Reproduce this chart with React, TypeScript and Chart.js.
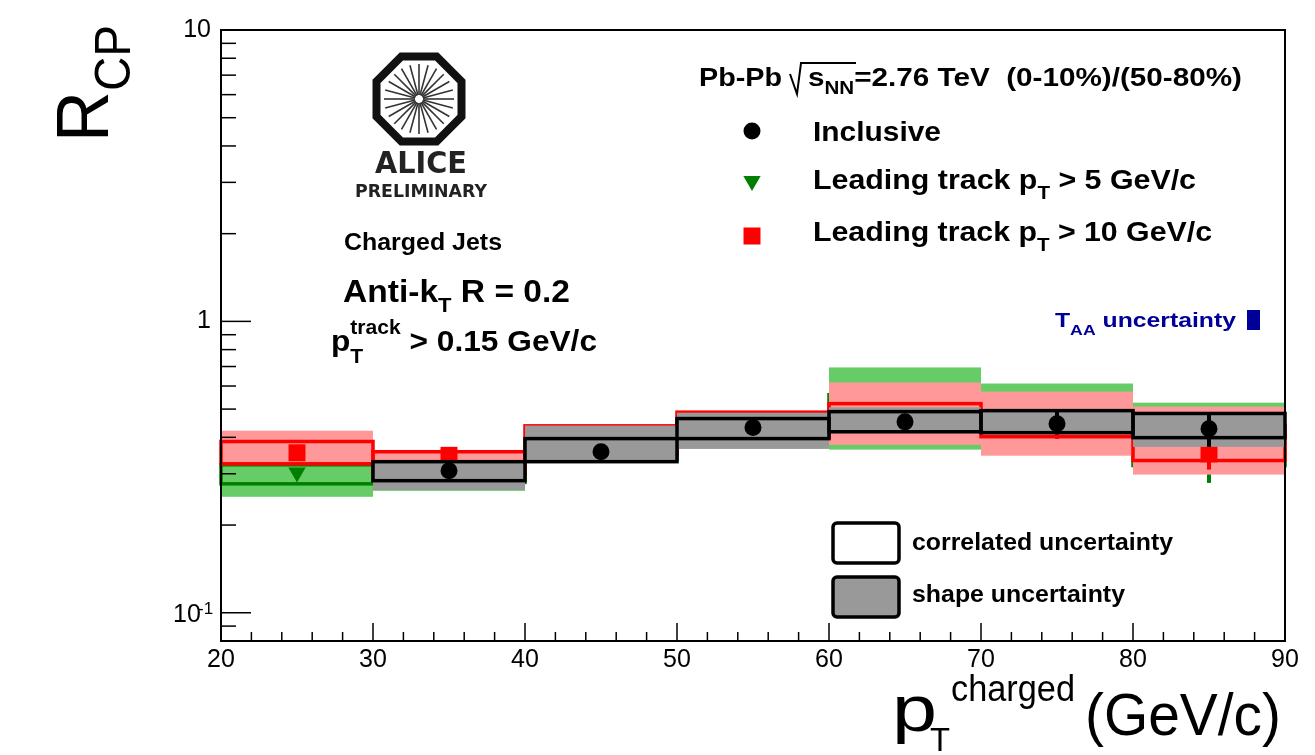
import React, { useEffect, useRef } from "react";
import { Chart, registerables } from "chart.js";
Chart.register(...registerables);

const FONT = "'Liberation Sans', Arial, Helvetica, sans-serif";

// ---- data ----
const binEdges = [20, 30, 40, 50, 60, 70, 80, 90];
const binCenters = [25, 35, 45, 55, 65, 75, 85];
const xTickValues = [20, 30, 40, 50, 60, 70, 80, 90];
const yMajorTicks = [0.1, 1, 10];
const yRange = [0.08, 10];

// Inclusive
const inclusiveValue = [null, 0.307, 0.357, 0.432, 0.452, 0.445, 0.428];
const inclusiveStatLo = [null, 0.301, 0.351, 0.426, 0.445, 0.41, 0.371];
const inclusiveStatHi = [null, 0.313, 0.363, 0.438, 0.459, 0.49, 0.482];
const inclusiveCorrLo = [null, 0.284, 0.33, 0.396, 0.418, 0.415, 0.399];
const inclusiveCorrHi = [null, 0.33, 0.396, 0.464, 0.49, 0.494, 0.483];
const inclusiveShapeLo = [null, 0.264, 0.33, 0.365, 0.418, 0.415, 0.371];
const inclusiveShapeHi = [null, 0.33, 0.439, 0.486, 0.507, 0.494, 0.483];

// Leading track pT > 5 GeV/c
const lead5Value = [0.303, null, null, null, null, null, 0.345];
const lead5StatLo = [null, null, null, null, null, null, 0.279];
const lead5StatHi = [null, null, null, null, null, null, 0.36];
const lead5CorrLo = [0.277, 0.28, 0.335, 0.39, 0.42, 0.4, 0.32];
const lead5CorrHi = [0.322, 0.33, 0.39, 0.46, 0.56, 0.5, 0.4];
const lead5ShapeLo = [0.25, 0.262, 0.33, 0.37, 0.363, 0.36, 0.3];
const lead5ShapeHi = [0.33, 0.33, 0.43, 0.48, 0.695, 0.612, 0.526];

// Leading track pT > 10 GeV/c
const lead10Value = [0.354, 0.347, null, null, null, null, 0.351];
const lead10StatLo = [null, null, null, null, null, 0.395, 0.31];
const lead10StatHi = [null, null, null, null, null, 0.46, 0.4];
const lead10CorrLo = [0.3245, 0.3, 0.35, 0.4, 0.42, 0.402, 0.333];
const lead10CorrHi = [0.387, 0.357, 0.438, 0.488, 0.522, 0.48, 0.44];
const lead10ShapeLo = [0.322, 0.3, 0.34, 0.38, 0.377, 0.346, 0.298];
const lead10ShapeHi = [0.4215, 0.355, 0.44, 0.488, 0.617, 0.574, 0.51];

const GREEN_FILL = "#66cc66";
const GREEN_LINE = "#008000";
const RED_FILL = "#ff9999";
const RED_LINE = "#ff0000";
const GRAY_FILL = "#999999";
const BLUE = "#000099";

type Seg = { t: string; s: number; b?: boolean; dy?: number; sup?: string; supS?: number; supDy?: number };
const fontOf = (s: number, b?: boolean) => `${b ? "bold " : ""}${s}px ${FONT}`;

function segsWidth(ctx: CanvasRenderingContext2D, segs: Seg[]) {
  let w = 0;
  for (const g of segs) {
    ctx.font = fontOf(g.s, g.b);
    let sw = ctx.measureText(g.t).width;
    if (g.sup) {
      ctx.font = fontOf(g.supS ?? g.s, g.b);
      sw = Math.max(sw, ctx.measureText(g.sup).width);
    }
    w += sw;
  }
  return w;
}

function drawRich(ctx: CanvasRenderingContext2D, x: number, y: number, segs: Seg[], target?: number, color = "#000") {
  const nat = segsWidth(ctx, segs);
  const sx = target ? target / nat : 1;
  ctx.save();
  ctx.translate(x, y);
  ctx.scale(sx, 1);
  ctx.fillStyle = color;
  ctx.textAlign = "left";
  ctx.textBaseline = "alphabetic";
  let cx = 0;
  for (const g of segs) {
    ctx.font = fontOf(g.s, g.b);
    ctx.fillText(g.t, cx, g.dy ?? 0);
    let sw = ctx.measureText(g.t).width;
    if (g.sup) {
      ctx.font = fontOf(g.supS ?? g.s, g.b);
      ctx.fillText(g.sup, cx, g.supDy ?? 0);
      sw = Math.max(sw, ctx.measureText(g.sup).width);
    }
    cx += sw;
  }
  ctx.restore();
}

function drawFitted(ctx: CanvasRenderingContext2D, xc: number, y: number, text: string, font: string, target: number, color: string) {
  ctx.save();
  ctx.font = font;
  const w = ctx.measureText(text).width;
  ctx.translate(xc - target / 2, y);
  ctx.scale(target / w, 1);
  ctx.fillStyle = color;
  ctx.textBaseline = "alphabetic";
  ctx.textAlign = "left";
  ctx.fillText(text, 0, 0);
  ctx.restore();
}

function seriesLayer(chart: any, shapeLo: any[], shapeHi: any[], corrLo: any[], corrHi: any[], statLo: any[], statHi: any[], fill: string, line: string) {
  const { ctx } = chart;
  const xs = chart.scales.x;
  const ys = chart.scales.y;
  ctx.save();
  for (let i = 0; i < binCenters.length; i++) {
    if (shapeLo[i] == null) continue;
    const x0 = xs.getPixelForValue(binEdges[i]);
    const x1 = xs.getPixelForValue(binEdges[i + 1]);
    const y0 = ys.getPixelForValue(shapeHi[i]);
    const y1 = ys.getPixelForValue(shapeLo[i]);
    ctx.fillStyle = fill;
    ctx.fillRect(x0, y0, x1 - x0, y1 - y0);
  }
  ctx.lineWidth = 3.5;
  ctx.strokeStyle = line;
  for (let i = 0; i < binCenters.length; i++) {
    if (corrLo[i] == null) continue;
    const x0 = xs.getPixelForValue(binEdges[i]);
    const x1 = xs.getPixelForValue(binEdges[i + 1]);
    const y0 = ys.getPixelForValue(corrHi[i]);
    const y1 = ys.getPixelForValue(corrLo[i]);
    ctx.strokeRect(x0, y0, x1 - x0, y1 - y0);
  }
  ctx.lineWidth = 4;
  for (let i = 0; i < binCenters.length; i++) {
    if (statLo[i] == null) continue;
    const xc = xs.getPixelForValue(binCenters[i]);
    ctx.beginPath();
    ctx.moveTo(xc, ys.getPixelForValue(statLo[i]));
    ctx.lineTo(xc, ys.getPixelForValue(statHi[i]));
    ctx.stroke();
  }
  ctx.restore();
}

function drawMarker(ctx: CanvasRenderingContext2D, kind: string, x: number, y: number, color: string) {
  ctx.save();
  ctx.fillStyle = color;
  ctx.beginPath();
  if (kind === "circle") {
    ctx.arc(x, y, 8.5, 0, Math.PI * 2);
  } else if (kind === "tri") {
    const r = 10;
    ctx.moveTo(x - r * 0.866, y - r / 2);
    ctx.lineTo(x + r * 0.866, y - r / 2);
    ctx.lineTo(x, y + r);
    ctx.closePath();
  } else {
    ctx.rect(x - 8.5, y - 8.5, 17, 17);
  }
  ctx.fill();
  ctx.restore();
}

const layerPlugin = {
  id: "rcpLayers",
  beforeDatasetDraw(chart: any, args: any) {
    if (args.index === 2) {
      seriesLayer(chart, lead5ShapeLo, lead5ShapeHi, lead5CorrLo, lead5CorrHi, lead5StatLo, lead5StatHi, GREEN_FILL, GREEN_LINE);
    } else if (args.index === 1) {
      seriesLayer(chart, lead10ShapeLo, lead10ShapeHi, lead10CorrLo, lead10CorrHi, lead10StatLo, lead10StatHi, RED_FILL, RED_LINE);
    } else if (args.index === 0) {
      seriesLayer(chart, inclusiveShapeLo, inclusiveShapeHi, inclusiveCorrLo, inclusiveCorrHi, inclusiveStatLo, inclusiveStatHi, GRAY_FILL, "#000");
    }
  },
};

const decorPlugin = {
  id: "rcpDecor",
  afterDraw(chart: any) {
    const { ctx, chartArea: a } = chart;
    const xs = chart.scales.x;
    const ys = chart.scales.y;
    ctx.save();
    // frame
    ctx.strokeStyle = "#000";
    ctx.lineWidth = 2;
    ctx.strokeRect(a.left, a.top, a.right - a.left, a.bottom - a.top);
    // y ticks (inside)
    ctx.lineWidth = 1.5;
    for (let d = -2; d <= 1; d++) {
      for (let m = 1; m <= 9; m++) {
        const v = m * Math.pow(10, d);
        if (v < yRange[0] - 1e-9 || v > yRange[1] + 1e-9) continue;
        const p = ys.getPixelForValue(v);
        const len = m === 1 ? 30 : 15;
        ctx.beginPath();
        ctx.moveTo(a.left, p);
        ctx.lineTo(a.left + len, p);
        ctx.stroke();
      }
    }
    // x ticks
    for (let v = 20; v <= 90; v += 2) {
      const p = xs.getPixelForValue(v);
      const len = v % 10 === 0 ? 18 : 9;
      ctx.beginPath();
      ctx.moveTo(p, a.bottom);
      ctx.lineTo(p, a.bottom - len);
      ctx.stroke();
    }
    // 10^-1 label
    const p01 = ys.getPixelForValue(0.1);
    drawRich(ctx, 173, p01 + 9, [{ t: "10", s: 25 }]);
    drawRich(ctx, 198, p01 + 1, [{ t: "-1", s: 17 }]);

    // y title
    ctx.save();
    ctx.translate(108, 142);
    ctx.rotate(-Math.PI / 2);
    drawRich(ctx, 0, 0, [{ t: "R", s: 74 }, { t: "CP", s: 50, dy: 22 }], 117);
    ctx.restore();

    // x title
    drawRich(ctx, 892, 731, [{ t: "p", s: 64 }], 45);
    drawRich(ctx, 930, 751, [{ t: "T", s: 34 }], 20);
    drawRich(ctx, 951, 701, [{ t: "charged", s: 36 }], 124);
    drawRich(ctx, 1085, 735, [{ t: "(GeV/c)", s: 60 }], 196);

    // ALICE logo
    const cx = 419, cy = 99, R = 46;
    ctx.lineWidth = 8;
    ctx.strokeStyle = "#111";
    ctx.beginPath();
    for (let k = 0; k < 8; k++) {
      const ang = ((22.5 + 45 * k) * Math.PI) / 180;
      const px = cx + R * Math.cos(ang);
      const py = cy + R * Math.sin(ang);
      if (k === 0) ctx.moveTo(px, py);
      else ctx.lineTo(px, py);
    }
    ctx.closePath();
    ctx.stroke();
    ctx.lineWidth = 1.6;
    ctx.strokeStyle = "#333";
    for (let k = 0; k < 24; k++) {
      const ang = (k * 15 * Math.PI) / 180;
      ctx.beginPath();
      ctx.moveTo(cx + 4 * Math.cos(ang), cy + 4 * Math.sin(ang));
      ctx.lineTo(cx + 35 * Math.cos(ang), cy + 35 * Math.sin(ang));
      ctx.stroke();
    }
    drawFitted(ctx, 421, 173, "ALICE", `bold 30px 'DejaVu Sans', sans-serif`, 92, "#222");
    drawFitted(ctx, 421, 197, "PRELIMINARY", `bold 18px 'DejaVu Sans', sans-serif`, 132, "#222");

    // header + legend
    drawRich(ctx, 699, 86, [{ t: "Pb-Pb", s: 26, b: true }], 83);
    ctx.strokeStyle = "#000";
    ctx.lineWidth = 2;
    ctx.beginPath();
    ctx.moveTo(790, 74);
    ctx.lineTo(797, 94);
    ctx.lineTo(801, 63);
    ctx.lineTo(856, 63);
    ctx.stroke();
    drawRich(ctx, 808, 86, [{ t: "s", s: 26, b: true }, { t: "NN", s: 18, b: true, dy: 8 }, { t: "=2.76 TeV  (0-10%)/(50-80%)", s: 26, b: true }], 434);

    drawMarker(ctx, "circle", 752, 131, "#000");
    drawMarker(ctx, "tri", 752, 181, GREEN_LINE);
    drawMarker(ctx, "rect", 752, 236, RED_LINE);
    drawRich(ctx, 813, 141, [{ t: "Inclusive", s: 28, b: true }], 128);
    drawRich(ctx, 813, 189, [{ t: "Leading track p", s: 28, b: true }, { t: "T", s: 19, b: true, dy: 10 }, { t: " > 5 GeV/c", s: 28, b: true }], 383);
    drawRich(ctx, 813, 241, [{ t: "Leading track p", s: 28, b: true }, { t: "T", s: 19, b: true, dy: 10 }, { t: " > 10 GeV/c", s: 28, b: true }], 399);

    // left labels
    drawRich(ctx, 344, 250, [{ t: "Charged Jets", s: 23, b: true }], 158);
    drawRich(ctx, 343, 302, [{ t: "Anti-k", s: 32, b: true }, { t: "T", s: 21, b: true, dy: 10 }, { t: " R = 0.2", s: 32, b: true }], 227);
    drawRich(ctx, 331, 351, [{ t: "p", s: 30, b: true }, { t: "T", s: 20, b: true, dy: 12, sup: "track", supS: 20, supDy: -17 }, { t: " > 0.15 GeV/c", s: 30, b: true }], 266);

    // TAA uncertainty
    drawRich(ctx, 1055, 327, [{ t: "T", s: 21, b: true }, { t: "AA", s: 15, b: true, dy: 8 }, { t: " uncertainty", s: 21, b: true }], 181, BLUE);
    ctx.fillStyle = BLUE;
    ctx.fillRect(1247, 310, 13, 20);

    // uncertainty legend
    ctx.lineWidth = 3.5;
    ctx.strokeStyle = "#000";
    ctx.fillStyle = "#fff";
    ctx.beginPath();
    ctx.roundRect(833, 523, 66, 40, 4);
    ctx.fill();
    ctx.stroke();
    ctx.fillStyle = GRAY_FILL;
    ctx.beginPath();
    ctx.roundRect(833, 577, 66, 40, 4);
    ctx.fill();
    ctx.stroke();
    drawRich(ctx, 912, 550, [{ t: "correlated uncertainty", s: 24, b: true }], 261);
    drawRich(ctx, 912, 602, [{ t: "shape uncertainty", s: 24, b: true }], 213);
    ctx.restore();
  },
};

export default function App() {
  const ref = useRef<HTMLCanvasElement>(null);
  useEffect(() => {
    const mk = (vals: any[]) => binCenters.map((x, i) => ({ x, y: vals[i] })).filter((p) => p.y != null);
    const chart = new Chart(ref.current as HTMLCanvasElement, {
      type: "scatter",
      data: {
        datasets: [
          { label: "Inclusive", data: mk(inclusiveValue), pointStyle: "circle", pointRadius: 8.5, backgroundColor: "#000", borderWidth: 0 },
          { label: "Leading track pT > 10 GeV/c", data: mk(lead10Value), pointStyle: "rect", pointRadius: 12, backgroundColor: RED_LINE, borderWidth: 0 },
          { label: "Leading track pT > 5 GeV/c", data: mk(lead5Value), pointStyle: "triangle", rotation: 180, pointRadius: 10, backgroundColor: GREEN_LINE, borderWidth: 0 },
        ],
      } as any,
      options: {
        animation: false,
        responsive: false,
        events: [],
        layout: { padding: { left: 0, top: 30, right: 30, bottom: 0 } },
        plugins: { legend: { display: false }, tooltip: { enabled: false }, title: { display: false } },
        scales: {
          x: {
            type: "linear",
            min: binEdges[0],
            max: binEdges[binEdges.length - 1],
            afterBuildTicks: (s: any) => { s.ticks = xTickValues.map((v) => ({ value: v })); },
            afterFit: (s: any) => { s.height = 114; },
            grid: { display: false, drawTicks: false },
            border: { display: false },
            ticks: { font: { size: 25, family: FONT }, color: "#000", padding: 4, maxRotation: 0, autoSkip: false },
          },
          y: {
            type: "logarithmic",
            min: yRange[0],
            max: yRange[1],
            afterBuildTicks: (s: any) => { s.ticks = yMajorTicks.map((v) => ({ value: v })); },
            afterFit: (s: any) => { s.width = 221; },
            grid: { display: false, drawTicks: false },
            border: { display: false },
            ticks: {
              font: { size: 25, family: FONT },
              color: "#000",
              padding: 10,
              autoSkip: false,
              callback: (v: any) => (v === 10 ? "10" : v === 1 ? "1" : ""),
            },
          },
        },
      } as any,
      plugins: [layerPlugin, decorPlugin],
    });
    return () => chart.destroy();
  }, []);
  return (
    <div style={{ position: "absolute", left: 0, top: 0, width: 1315, height: 755, background: "#fff" }}>
      <canvas ref={ref} width={1315} height={755} style={{ display: "block", width: 1315, height: 755 }} />
    </div>
  );
}
